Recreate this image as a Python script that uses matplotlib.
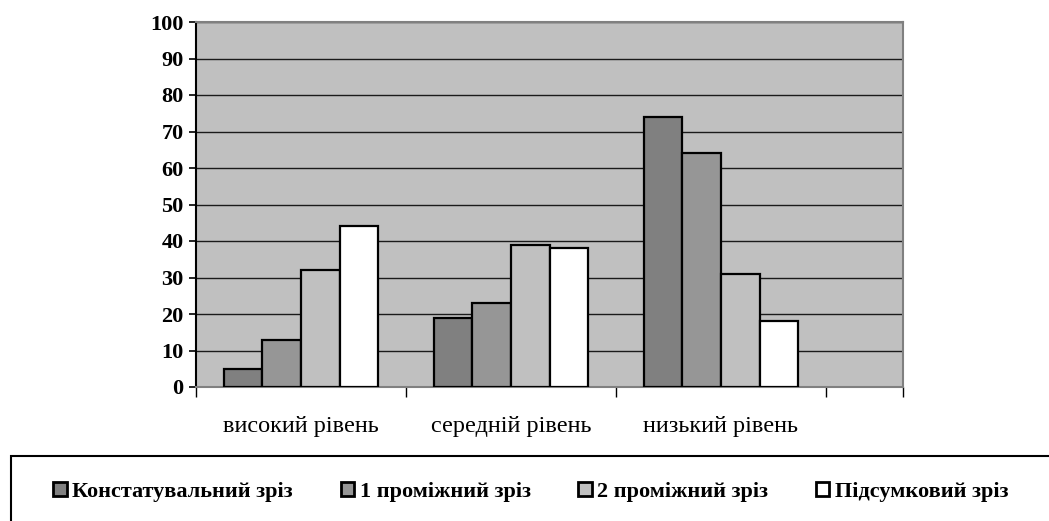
import matplotlib
matplotlib.use("Agg")
import matplotlib.pyplot as plt
import numpy as np
from matplotlib.patches import Rectangle

categories = ["високий рівень", "середній рівень", "низький рівень"]
series_names = ["Констатувальний зріз", "1 проміжний зріз", "2 проміжний зріз", "Підсумковий зріз"]
values = [
    [5, 19, 74],   # Констатувальний
    [13, 23, 64],  # 1 проміжний
    [32, 39, 31],  # 2 проміжний
    [44, 38, 18],  # Підсумковий
]
colors = ["#808080", "#969696", "#C0C0C0", "#FFFFFF"]
yticks = list(range(0, 101, 10))

W, H = 1049, 521
fig = plt.figure(figsize=(W / 100, H / 100), dpi=100)
ax = fig.add_axes([196 / W, 1 - 387 / H, (903 - 196) / W, (387 - 22) / H])
ax.set_facecolor("#C0C0C0")

x = np.arange(len(categories))
bw = 0.184
n = len(series_names)
for i, (name, vals, c) in enumerate(zip(series_names, values, colors)):
    ax.bar(x + (i - (n - 1) / 2) * bw, vals, width=bw, color=c, edgecolor="black",
           linewidth=1.6, label=name, zorder=3)

ax.set_ylim(0, 100)
ax.set_xlim(-0.5, 2.867)
ax.set_yticks(yticks)
ax.set_yticklabels([str(v) for v in yticks], fontfamily="Liberation Serif",
                   fontweight="bold", fontsize=16)
ax.yaxis.grid(True, color="#1a1a1a", linewidth=1.0, zorder=1)
ax.set_axisbelow(True)

ax.set_xticks([-0.5, 0.5, 1.5, 2.5, 2.867])
ax.set_xticklabels([])
ax.set_xticks(x, minor=True)
ax.set_xticklabels(categories, minor=True, fontfamily="Liberation Serif", fontsize=17.5)
ax.tick_params(axis="x", which="major", length=7, width=1.0, direction="out", color="black")
ax.tick_params(axis="x", which="minor", length=0, pad=21)
ax.tick_params(axis="y", length=5, width=1.2, direction="out", pad=4)

ax.spines["left"].set_color("black")
ax.spines["left"].set_linewidth(1.5)
for s in ["top", "right", "bottom"]:
    ax.spines[s].set_color("#808080")
    ax.spines[s].set_linewidth(1.5)

# legend frame
fig.patches.append(Rectangle((11 / W, -0.1), 1.1, 1 - 456 / H + 0.1,
                             transform=fig.transFigure, fill=False,
                             edgecolor="black", linewidth=1.5))

handles, labels = ax.get_legend_handles_labels()
leg = fig.legend(handles, labels, loc="center", bbox_to_anchor=(531 / W, 1 - 492 / H),
                 ncol=4, frameon=False, handlelength=0.6, handleheight=0.6,
                 handletextpad=0.25, columnspacing=2.15,
                 prop={"family": "Liberation Serif", "weight": "bold", "size": 16})
for h in leg.legend_handles:
    h.set_linewidth(2.0)

fig.savefig("out.png", dpi=100)
